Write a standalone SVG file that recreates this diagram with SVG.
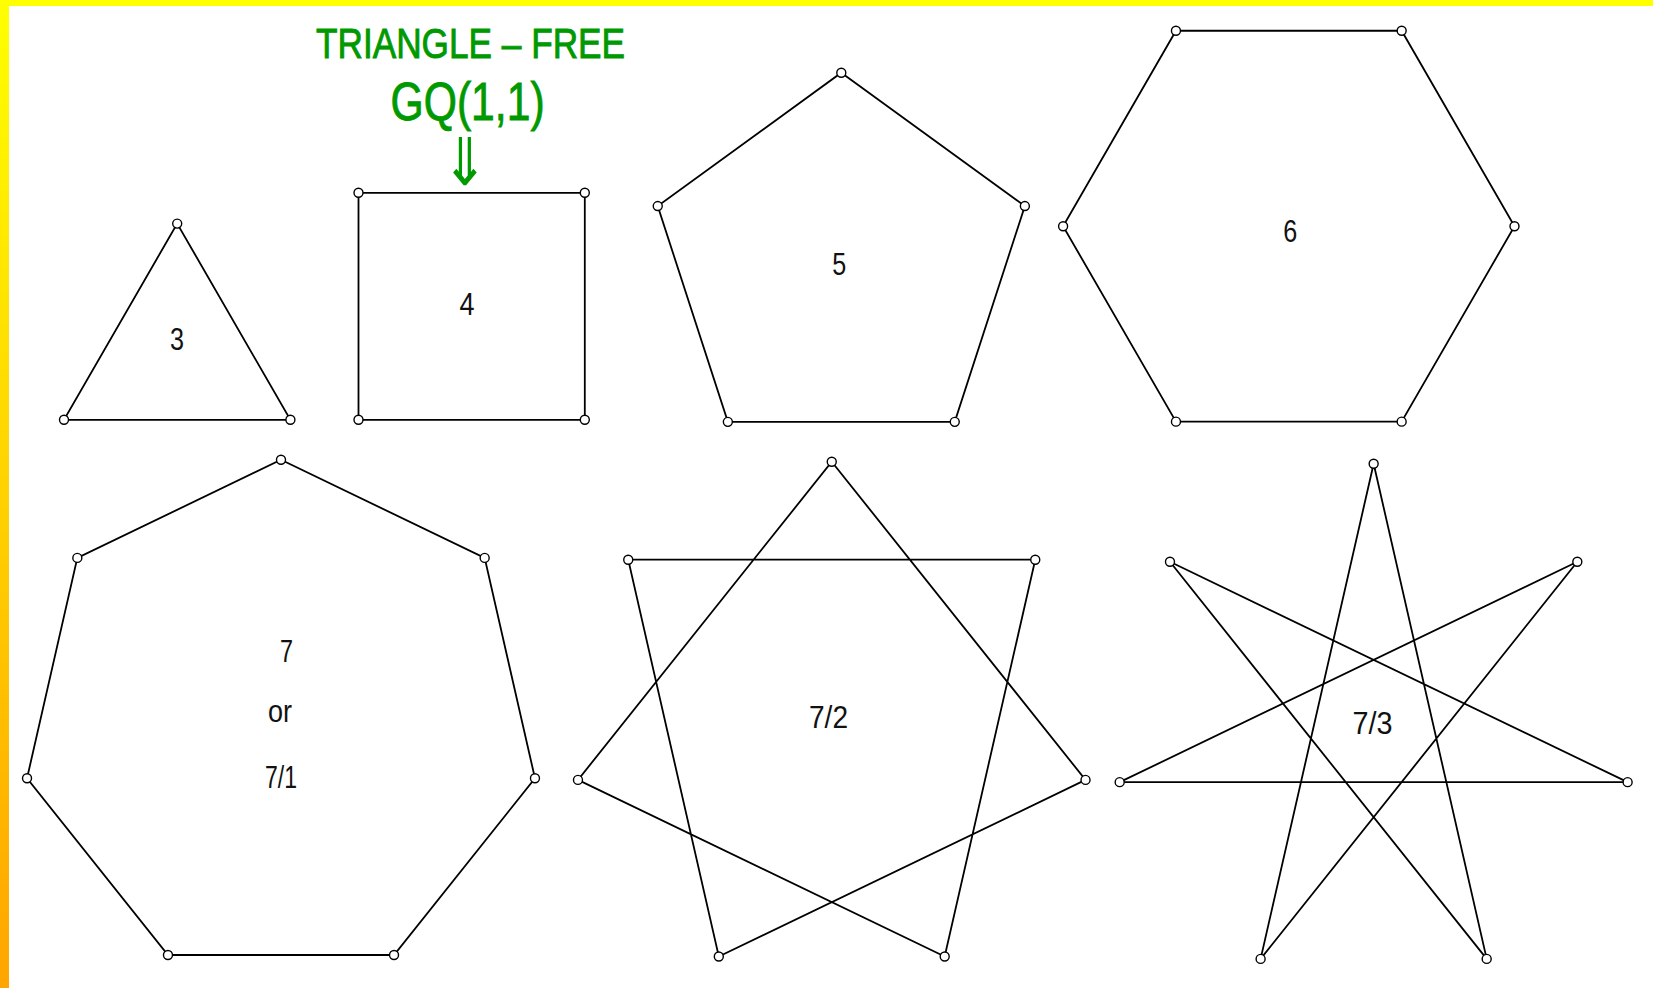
<svg xmlns="http://www.w3.org/2000/svg" width="1653" height="988" viewBox="0 0 1653 988">
<defs>
<linearGradient id="lb" x1="0" y1="0" x2="0" y2="1">
<stop offset="0" stop-color="#ffff00"/>
<stop offset="1" stop-color="#ffa500"/>
</linearGradient>
<style>
.e{fill:none;stroke:#000;stroke-width:1.8;stroke-linejoin:miter}
.v{fill:#fff;stroke:#000;stroke-width:1.4}
.lbl{font-family:"Liberation Sans",Arial,sans-serif;font-size:32px;fill:#111;text-anchor:middle}
.ttl{font-family:"Liberation Sans",Arial,sans-serif;font-weight:normal;fill:#009900;stroke:#009900;stroke-width:0.9;text-anchor:middle}
</style>
</defs>
<rect x="0" y="0" width="1653" height="988" fill="#fff"/>
<rect x="0" y="0" width="1653" height="6" fill="#ffff00"/>
<rect x="0" y="0" width="9" height="988" fill="url(#lb)"/>

<g id="title">
<text class="ttl" x="470.5" y="58.3" font-size="42" textLength="309" lengthAdjust="spacingAndGlyphs">TRIANGLE – FREE</text>
<text class="ttl" x="467.6" y="120" font-size="54" textLength="154" lengthAdjust="spacingAndGlyphs">GQ(1,1)</text>
</g>

<g id="connectors">
<text x="465" y="185" font-family="DejaVu Sans,sans-serif" font-size="66" fill="#009900" text-anchor="middle" textLength="46" lengthAdjust="spacingAndGlyphs">⇓</text>
</g>

<g id="n3">
<polygon class="e" points="177.2,223.6 290.4,419.8 64,419.8"/>
<circle class="v" cx="177.2" cy="223.6" r="4.5"/><circle class="v" cx="290.4" cy="419.8" r="4.5"/><circle class="v" cx="64" cy="419.8" r="4.5"/>
<text class="lbl" x="177" y="350" textLength="14" lengthAdjust="spacingAndGlyphs">3</text>
</g>

<g id="n4">
<polygon class="e" points="358.5,192.8 584.8,192.8 584.8,419.8 358.5,419.8"/>
<circle class="v" cx="358.5" cy="192.8" r="4.5"/><circle class="v" cx="584.8" cy="192.8" r="4.5"/><circle class="v" cx="584.8" cy="419.8" r="4.5"/><circle class="v" cx="358.5" cy="419.8" r="4.5"/>
<text class="lbl" x="467" y="315" textLength="15" lengthAdjust="spacingAndGlyphs">4</text>
</g>

<g id="n5">
<polygon class="e" points="841.3,72.7 1024.86,206.06 954.75,421.84 727.85,421.84 657.74,206.06"/>
<circle class="v" cx="841.3" cy="72.7" r="4.5"/><circle class="v" cx="1024.86" cy="206.06" r="4.5"/><circle class="v" cx="954.75" cy="421.84" r="4.5"/><circle class="v" cx="727.85" cy="421.84" r="4.5"/><circle class="v" cx="657.74" cy="206.06" r="4.5"/>
<text class="lbl" x="839.3" y="275" textLength="14" lengthAdjust="spacingAndGlyphs">5</text>
</g>

<g id="n6">
<polygon class="e" points="1175.95,30.74 1401.65,30.74 1514.5,226.2 1401.65,421.66 1175.95,421.66 1063.1,226.2"/>
<circle class="v" cx="1175.95" cy="30.74" r="4.5"/><circle class="v" cx="1401.65" cy="30.74" r="4.5"/><circle class="v" cx="1514.5" cy="226.2" r="4.5"/><circle class="v" cx="1401.65" cy="421.66" r="4.5"/><circle class="v" cx="1175.95" cy="421.66" r="4.5"/><circle class="v" cx="1063.1" cy="226.2" r="4.5"/>
<text class="lbl" x="1290.3" y="242" textLength="14" lengthAdjust="spacingAndGlyphs">6</text>
</g>

<g id="n7-1">
<polygon class="e" points="281,459.8 484.67,557.88 534.97,778.27 394.03,955 167.97,955 27.03,778.27 77.33,557.88"/>
<circle class="v" cx="281" cy="459.8" r="4.5"/><circle class="v" cx="484.67" cy="557.88" r="4.5"/><circle class="v" cx="534.97" cy="778.27" r="4.5"/><circle class="v" cx="394.03" cy="955" r="4.5"/><circle class="v" cx="167.97" cy="955" r="4.5"/><circle class="v" cx="27.03" cy="778.27" r="4.5"/><circle class="v" cx="77.33" cy="557.88" r="4.5"/>
<text class="lbl" x="286.5" y="662" textLength="13" lengthAdjust="spacingAndGlyphs">7</text>
<text class="lbl" x="280" y="721.5" textLength="24" lengthAdjust="spacingAndGlyphs">or</text>
<text class="lbl" x="281" y="788" textLength="32" lengthAdjust="spacingAndGlyphs">7/1</text>
</g>

<g id="n7-2">
<polygon class="e" points="831.75,461.7 1085.52,779.92 718.81,956.52 628.24,559.71 1035.26,559.71 944.69,956.52 577.98,779.92"/>
<circle class="v" cx="831.75" cy="461.7" r="4.5"/><circle class="v" cx="1035.26" cy="559.71" r="4.5"/><circle class="v" cx="1085.52" cy="779.92" r="4.5"/><circle class="v" cx="944.69" cy="956.52" r="4.5"/><circle class="v" cx="718.81" cy="956.52" r="4.5"/><circle class="v" cx="577.98" cy="779.92" r="4.5"/><circle class="v" cx="628.24" cy="559.71" r="4.5"/>
<text class="lbl" x="828.5" y="728" textLength="39" lengthAdjust="spacingAndGlyphs">7/2</text>
</g>

<g id="n7-3">
<polygon class="e" points="1373.65,463.7 1486.68,958.9 1169.98,561.78 1627.62,782.17 1119.68,782.17 1577.32,561.78 1260.62,958.9"/>
<circle class="v" cx="1373.65" cy="463.7" r="4.5"/><circle class="v" cx="1577.32" cy="561.78" r="4.5"/><circle class="v" cx="1627.62" cy="782.17" r="4.5"/><circle class="v" cx="1486.68" cy="958.9" r="4.5"/><circle class="v" cx="1260.62" cy="958.9" r="4.5"/><circle class="v" cx="1119.68" cy="782.17" r="4.5"/><circle class="v" cx="1169.98" cy="561.78" r="4.5"/>
<text class="lbl" x="1372.6" y="734" textLength="40" lengthAdjust="spacingAndGlyphs">7/3</text>
</g>
</svg>
